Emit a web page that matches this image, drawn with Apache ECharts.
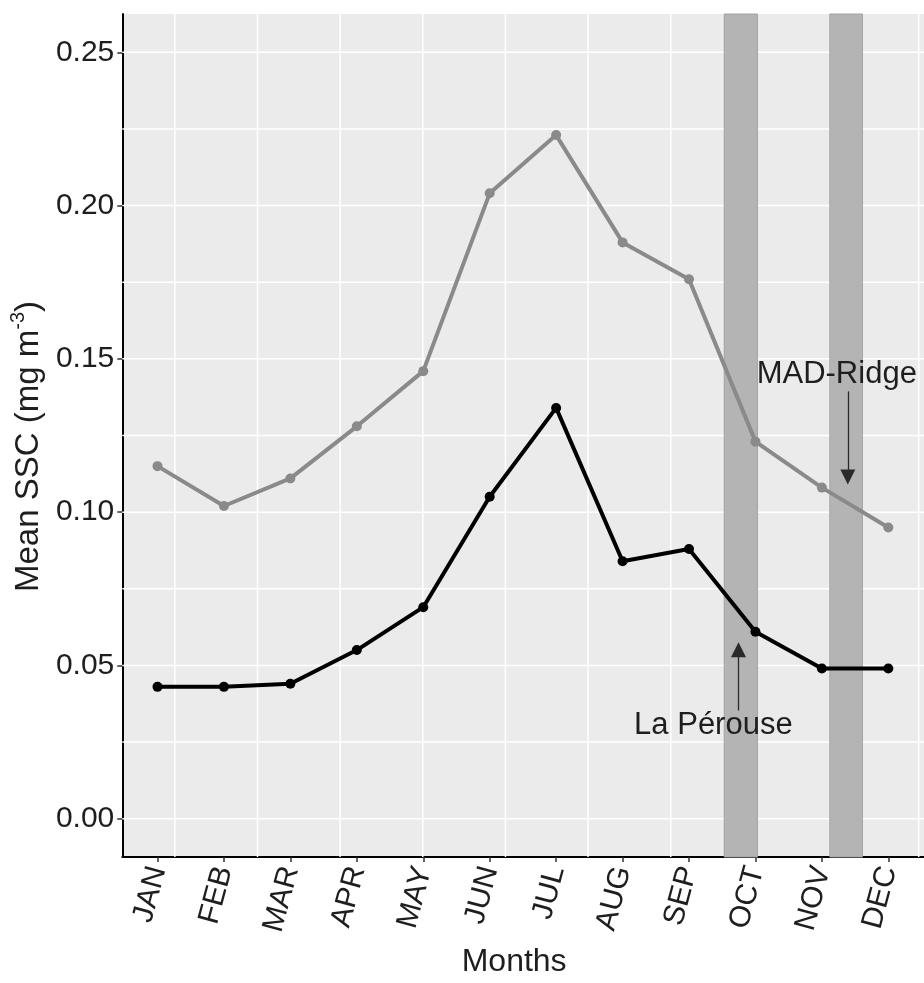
<!DOCTYPE html>
<html>
<head>
<meta charset="utf-8">
<script src="https://cdn.jsdelivr.net/npm/echarts@6/dist/echarts.min.js"></script>
<style>
html,body{margin:0;padding:0;background:#fff;}
#chart{width:924px;height:983px;}
</style>
</head>
<body>
<div id="chart"></div>
<script>
// ---- data ----
const months = ['JAN','FEB','MAR','APR','MAY','JUN','JUL','AUG','SEP','OCT','NOV','DEC'];
const madRidge = [0.115,0.102,0.111,0.128,0.146,0.204,0.223,0.188,0.176,0.123,0.108,0.095];
const laPerouse = [0.043,0.043,0.044,0.055,0.069,0.105,0.134,0.084,0.088,0.061,0.049,0.049];
const yTicks = [0, 0.05, 0.10, 0.15, 0.20, 0.25];
const yGrid = [0, 0.025, 0.05, 0.075, 0.10, 0.125, 0.15, 0.175, 0.20, 0.225, 0.25];
const xGrid = [0.261, 1.505, 2.749, 3.993, 5.237, 6.481, 7.725, 8.969, 10.213, 11.457];
const cruiseBands = [[8.53, 9.03], [10.12, 10.61]];
const xTicks = months.map((m, i) => i);

const chart = echarts.init(document.getElementById('chart'), null, {renderer: 'canvas'});
const FONT = 'Liberation Sans';
const TXT = '#1e1e1e';

const option = {
  animation: false,
  backgroundColor: '#ffffff',
  textStyle: {fontFamily: FONT},
  grid: {
    left: 115, top: 14, right: 0, bottom: 111,
    show: true, backgroundColor: '#ebebeb', borderWidth: 0, containLabel: false
  },
  xAxis: {
    type: 'value', min: -0.53, max: 11.537,
    name: 'Months', nameLocation: 'middle', nameGap: 89,
    nameTextStyle: {fontFamily: FONT, fontSize: 32, color: TXT, padding: [0, 18, 0, 0]},
    axisLine: {show: true, onZero: false, lineStyle: {color: '#000', width: 2}},
    axisTick: {show: true, customValues: xTicks, length: 5, lineStyle: {color: '#333', width: 1.5}},
    axisLabel: {
      customValues: xTicks, rotate: 75, margin: 10,
      fontFamily: FONT, fontSize: 30, color: TXT,
      formatter: v => months[Math.round(v)]
    },
    splitLine: {show: false}
  },
  yAxis: {
    type: 'value', min: -0.0125, max: 0.2625,
    name: '{n|Mean SSC (mg m}{sup|-3}{n|)}', nameLocation: 'middle', nameGap: 70,
    nameTextStyle: {
      fontFamily: FONT, fontSize: 33, color: TXT, padding: [0, 22, 0, 0],
      rich: {
        n: {fontFamily: FONT, fontSize: 33, color: TXT, verticalAlign: 'bottom', lineHeight: 37},
        sup: {fontFamily: FONT, fontSize: 20, color: TXT, verticalAlign: 'top', lineHeight: 37}
      }
    },
    axisLine: {show: true, onZero: false, lineStyle: {color: '#000', width: 2}},
    axisTick: {show: true, customValues: yTicks, length: 5, lineStyle: {color: '#333', width: 1.5}},
    axisLabel: {
      customValues: yTicks, margin: 8,
      fontFamily: FONT, fontSize: 30, color: TXT,
      formatter: v => v.toFixed(2)
    },
    splitLine: {show: false}
  },
  series: [
    {
      type: 'custom', name: 'vgrid', z: 1, silent: true,
      data: xGrid.map(x => [x, 0]),
      encode: {x: 0, y: 1},
      renderItem: (params, api) => {
        const cs = params.coordSys;
        const px = api.coord([api.value(0), 0])[0];
        return {type: 'line', shape: {x1: px, y1: cs.y, x2: px, y2: cs.y + cs.height},
          style: {stroke: '#ffffff', lineWidth: 1.5}};
      }
    },
    {
      type: 'custom', name: 'hgrid', z: 1, silent: true,
      data: yGrid.map(y => [0, y]),
      encode: {x: 0, y: 1},
      renderItem: (params, api) => {
        const cs = params.coordSys;
        const py = api.coord([0, api.value(1)])[1];
        return {type: 'line', shape: {x1: cs.x, y1: py, x2: cs.x + cs.width, y2: py},
          style: {stroke: '#ffffff', lineWidth: 1.5}};
      }
    },
    {
      type: 'custom', name: 'bands', z: 1.5, silent: true,
      data: cruiseBands,
      encode: {x: [0, 1]},
      renderItem: (params, api) => {
        const cs = params.coordSys;
        const x0 = api.coord([api.value(0), 0])[0];
        const x1 = api.coord([api.value(1), 0])[0];
        return {type: 'rect', shape: {x: x0, y: cs.y, width: x1 - x0, height: cs.height},
          style: {fill: '#b4b4b4', stroke: '#a2a2a2', lineWidth: 1}};
      }
    },
    {
      type: 'line', name: 'MAD-Ridge', z: 3,
      data: madRidge.map((v, i) => [i, v]),
      symbol: 'circle', symbolSize: 10,
      lineStyle: {color: '#8a8a8a', width: 4},
      itemStyle: {color: '#8a8a8a'},
      markLine: {
        silent: true, symbol: ['none', 'triangle'], symbolSize: 15,
        lineStyle: {color: '#2a2a2a', width: 1.3, type: 'solid'},
        label: {show: false},
        data: [[{coord: [10.39, 0.1394]}, {coord: [10.39, 0.1115]}]]
      },
      markPoint: {
        silent: true, symbol: 'circle', symbolSize: 1,
        itemStyle: {color: 'rgba(0,0,0,0)'},
        label: {show: true, position: 'inside', fontFamily: FONT, fontSize: 31, color: TXT, formatter: p => p.name},
        data: [{name: 'MAD-Ridge', coord: [10.224, 0.1449]}]
      }
    },
    {
      type: 'line', name: 'La Pérouse', z: 4,
      data: laPerouse.map((v, i) => [i, v]),
      symbol: 'circle', symbolSize: 10,
      lineStyle: {color: '#000000', width: 4},
      itemStyle: {color: '#000000'},
      markLine: {
        silent: true, symbol: ['none', 'triangle'], symbolSize: 15,
        lineStyle: {color: '#2a2a2a', width: 1.3, type: 'solid'},
        label: {show: false},
        data: [[{coord: [8.745, 0.0353]}, {coord: [8.745, 0.0551]}]]
      },
      markPoint: {
        silent: true, symbol: 'circle', symbolSize: 1,
        itemStyle: {color: 'rgba(0,0,0,0)'},
        label: {show: true, position: 'inside', fontFamily: FONT, fontSize: 31, color: TXT, formatter: p => p.name},
        data: [{name: 'La Pérouse', coord: [8.367, 0.0304]}]
      }
    }
  ]
};
chart.setOption(option);
</script>
</body>
</html>
